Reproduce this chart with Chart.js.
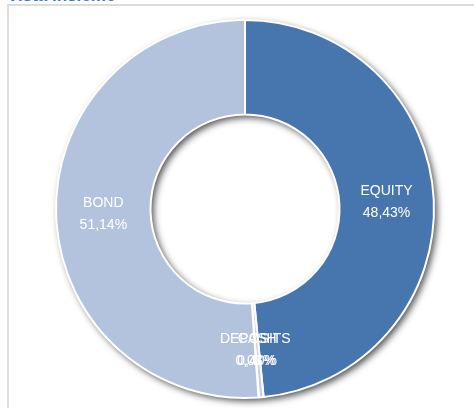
<!DOCTYPE html>
<html lang="it">
<head>
<meta charset="UTF-8">
<title>Vista insieme</title>
<script src="https://cdn.jsdelivr.net/npm/chart.js"></script>
<style>
  * { box-sizing: border-box; margin:0; padding:0; }
  body { width:474px; height:408px; overflow:hidden; background:#fff; position:relative; font-family:'Liberation Sans', sans-serif; }
  #titolo { position:absolute; left:7px; top:-13px; font:bold 17px/17px 'Liberation Sans', sans-serif; color:#3b7bc4; white-space:nowrap; }
  #cornice { position:absolute; left:7px; top:4px; width:600px; height:500px; border-left:2px solid #dcdcdc; border-top:2px solid #dcdcdc; }
  #wrap { position:absolute; left:0; top:0; width:474px; height:408px; }
</style>
</head>
<body>
<div id="titolo">Vista insieme</div>
<div id="cornice"></div>
<div id="wrap"><canvas id="grafico"></canvas></div>
<script>
const categorie = ['EQUITY', 'CASH', 'DEPOSITS', 'BOND'];
const valori = [48.43, 0.40, 0.03, 51.14];
const colori = ['#4776af', '#c6d1e5', '#dbe2ef', '#b4c3dd'];

const formatta = v => v.toFixed(2).replace('.', ',') + '%';

// ombra sotto l'anello
const ombra = {
  id: 'ombra',
  beforeDatasetsDraw(chart) {
    const arc = chart.getDatasetMeta(0).data[0];
    if (!arc) return;
    const { x, y, innerRadius, outerRadius } = arc.getProps(['x','y','innerRadius','outerRadius'], true);
    const ctx = chart.ctx;
    ctx.save();
    ctx.shadowColor = 'rgba(0,0,0,0.7)';
    ctx.shadowBlur = 7;
    ctx.shadowOffsetX = 3;
    ctx.shadowOffsetY = 3;
    ctx.fillStyle = '#ffffff';
    ctx.beginPath();
    ctx.arc(x, y, outerRadius, 0, Math.PI * 2);
    ctx.arc(x, y, innerRadius, 0, Math.PI * 2, true);
    ctx.fill();
    ctx.restore();
  }
};

// etichette dentro le fette
const etichette = {
  id: 'etichette',
  afterDatasetsDraw(chart) {
    const ctx = chart.ctx;
    ctx.save();
    ctx.fillStyle = '#ffffff';
    ctx.font = '14px "Liberation Sans", sans-serif';
    ctx.textAlign = 'center';
    ctx.textBaseline = 'middle';
    chart.getDatasetMeta(0).data.forEach((arc, i) => {
      const p = arc.tooltipPosition();
      ctx.fillText(categorie[i], p.x, p.y - 11);
      ctx.fillText(formatta(valori[i]), p.x, p.y + 11);
    });
    ctx.restore();
  }
};

new Chart(document.getElementById('grafico'), {
  type: 'doughnut',
  data: {
    labels: categorie,
    datasets: [{
      data: valori,
      backgroundColor: colori,
      borderColor: '#ffffff',
      borderWidth: 2
    }]
  },
  options: {
    responsive: true,
    maintainAspectRatio: false,
    animation: false,
    cutout: '50%',
    layout: { padding: { left: 55, right: 39, top: 19, bottom: 9 } },
    plugins: { legend: { display: false }, tooltip: { enabled: false } }
  },
  plugins: [ombra, etichette]
});
</script>
</body>
</html>
